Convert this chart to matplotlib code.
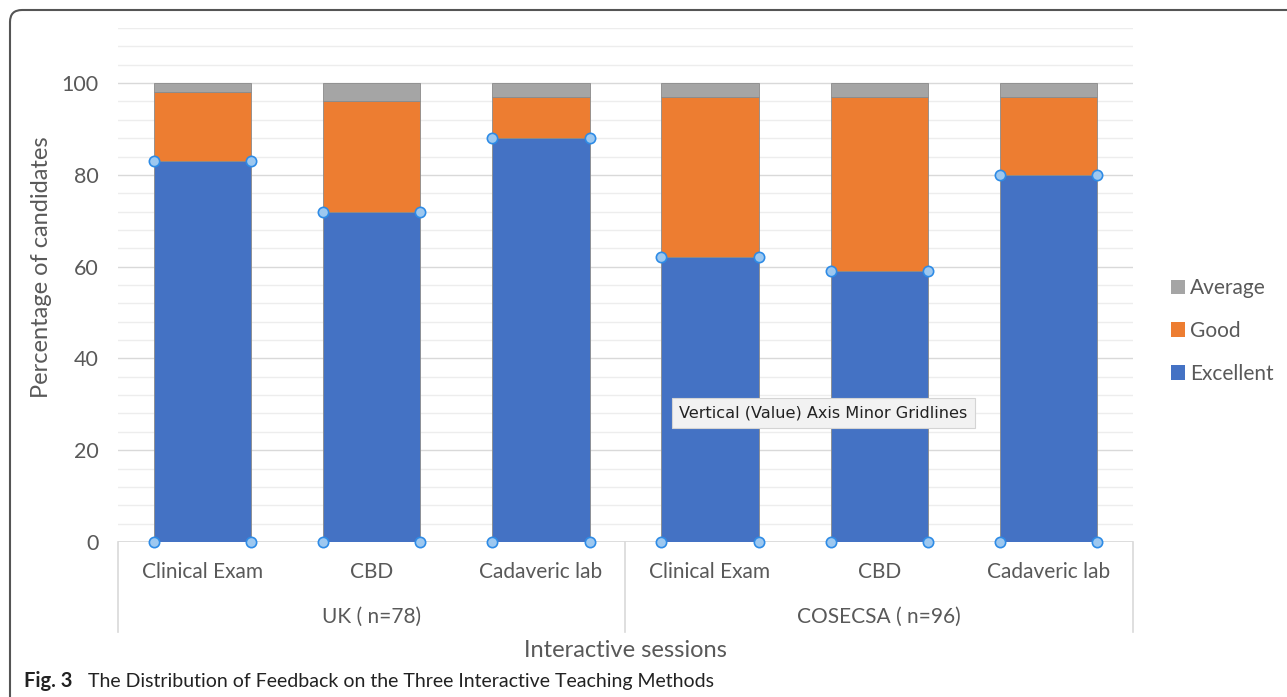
import numpy as np
import matplotlib.pyplot as plt
from matplotlib.patches import FancyBboxPatch, Patch
from matplotlib.transforms import IdentityTransform
import matplotlib.transforms as mtransforms

plt.rcParams["font.family"] = ["Lato", "DejaVu Sans"]

sessions = ["Clinical Exam", "CBD", "Cadaveric lab",
            "Clinical Exam", "CBD", "Cadaveric lab"]
groups = ["UK ( n=78)", "COSECSA ( n=96)"]
excellent = [83, 72, 88, 62, 59, 80]
good = [15, 24, 9, 35, 38, 17]
average = [2, 4, 3, 3, 3, 3]

blue = "#4472C4"
orange = "#ED7D31"
grey = "#A5A5A5"
txt = "#595959"

fig = plt.figure(figsize=(12.87, 6.97), dpi=100)
ax = fig.add_axes([0.0917, 0.2224, 0.7886, 0.7374])

x = np.arange(len(sessions))
w = 0.575
exc = np.array(excellent)
gd = np.array(good)
av = np.array(average)

ax.bar(x, exc, w, color=blue, edgecolor="#8a8a8a", linewidth=0.6, zorder=3)
ax.bar(x, gd, w, bottom=exc, color=orange, edgecolor="#8a8a8a", linewidth=0.6, zorder=3)
ax.bar(x, av, w, bottom=exc + gd, color=grey, edgecolor="#8a8a8a", linewidth=0.6, zorder=3)

# selection handles on the Excellent series
hx = np.concatenate([x - w / 2, x + w / 2, x - w / 2, x + w / 2])
hy = np.concatenate([exc, exc, np.zeros_like(exc), np.zeros_like(exc)])
ax.scatter(hx, hy, s=55, facecolor="#9DC8F0", edgecolor="#2E8BE6",
           linewidth=1.2, zorder=5, clip_on=False)

ax.set_xlim(-0.5, len(sessions) - 0.5)
ax.set_ylim(0, 112)
ax.set_yticks([0, 20, 40, 60, 80, 100])
ax.set_yticks(np.arange(0, 113, 4), minor=True)
ax.grid(axis="y", which="major", color="#d9d9d9", linewidth=1.0, zorder=0)
ax.grid(axis="y", which="minor", color="#ededed", linewidth=1.0, zorder=0)
for s in ax.spines.values():
    s.set_visible(False)
ax.axhline(0, color="#d9d9d9", linewidth=1.2, zorder=1)
ax.tick_params(axis="y", which="both", length=0, pad=14, labelsize=15.5, labelcolor=txt)
ax.tick_params(axis="x", which="both", length=0)
ax.set_xticks([])
ax.set_ylabel("Percentage of candidates", fontsize=17, color=txt)
ax.yaxis.set_label_coords(-0.065, 0.535)

trans = mtransforms.blended_transform_factory(ax.transData, ax.transAxes)
for xi, lab in zip(x, sessions):
    ax.text(xi, -0.058, lab, transform=trans, ha="center", va="center",
            fontsize=15, color=txt)
for gi, g in enumerate(groups):
    ax.text(1 + 3 * gi, -0.146, g, transform=trans, ha="center", va="center",
            fontsize=15, color=txt)
for xv in [-0.5, 2.5, 5.5]:
    ax.plot([xv, xv], [0, -0.175], transform=trans, color="#d9d9d9",
            linewidth=1.2, clip_on=False)
ax.text(2.5, -0.212, "Interactive sessions", transform=trans, ha="center",
        va="center", fontsize=17, color=txt)

handles = [Patch(facecolor=grey, label="Average"),
           Patch(facecolor=orange, label="Good"),
           Patch(facecolor=blue, label="Excellent")]
fig.legend(handles=handles, loc="center left", bbox_to_anchor=(0.895, 0.525),
           frameon=False, fontsize=15, handlelength=0.7, handleheight=0.7,
           handletextpad=0.25, labelspacing=1.1, labelcolor=txt)

# tooltip
fig.text(679 / 1287, 1 - 413 / 697, "Vertical (Value) Axis Minor Gridlines",
         fontsize=11.6, family="DejaVu Sans", color="#222222", va="center", ha="left",
         bbox=dict(boxstyle="square,pad=0.45", facecolor="#f2f2f2",
                   edgecolor="#d4d4d4", linewidth=0.8))

# caption
fig.text(24 / 1287, 1 - 681 / 697, "Fig. 3", fontsize=14.5, fontweight="bold",
         color="#222222", va="center", ha="left")
fig.text(88 / 1287, 1 - 681 / 697,
         "The Distribution of Feedback on the Three Interactive Teaching Methods",
         fontsize=14, color="#222222", va="center", ha="left")

# outer frame
frame = FancyBboxPatch((10, -30), 1320, 697 - 10 + 30,
                       boxstyle="round,pad=0,rounding_size=12",
                       transform=IdentityTransform(), facecolor="none",
                       edgecolor="#555555", linewidth=1.5, clip_on=False)
fig.patches.append(frame)

fig.savefig("out.png", dpi=100)
